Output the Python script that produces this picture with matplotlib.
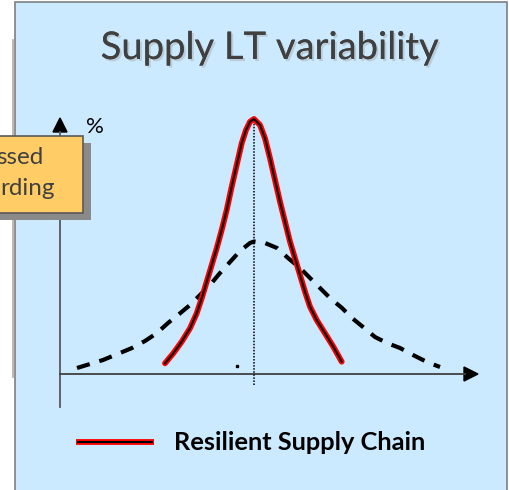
import matplotlib
matplotlib.use('Agg')
import matplotlib.pyplot as plt
import matplotlib.patheffects as pe
from matplotlib.patches import Rectangle

# Resilient supply chain (narrow bell) - lead time vs. %
red_lt = [10.5, 11.33, 12.17, 13.0, 13.67, 14.17, 14.67, 15.17, 15.67, 16.17, 16.67, 17.17,
          17.67, 18.17, 18.6, 19.0, 19.4,
          20.0, 20.5, 21.0, 21.5, 22.0, 22.5, 23.0, 23.5, 24.0, 24.5, 25.0, 25.67, 26.5,
          27.33, 28.17]
red_pct = [1.07, 2.07, 3.23, 4.57, 6.07, 7.57, 9.23, 10.9, 12.57, 14.4, 16.4, 18.73,
           20.9, 23.07, 24.4, 25.23, 25.5,
           24.9, 23.57, 21.57, 19.4, 17.23, 15.23, 13.23, 11.57, 9.9, 8.23, 6.73, 5.4, 4.07,
           2.73, 1.23]

# wide bell (dashed)
wide_lt = [1.7, 4.3, 6.0, 7.2, 8.5, 9.7, 10.8, 11.8, 13.0, 14.0, 15.0, 16.0, 17.0, 18.0,
           19.0, 19.4, 20.5, 21.7, 22.8, 24.0, 25.0, 26.0, 27.0, 28.2, 29.2, 30.3, 31.5,
           32.7, 34.0, 35.3, 36.7, 38.0]
wide_pct = [0.6, 1.4, 2.1, 2.6, 3.3, 4.1, 5.1, 5.9, 6.9, 7.9, 8.9, 10.1, 11.2, 12.3,
            13.1, 13.25, 13.1, 12.6, 11.6, 10.6, 9.6, 8.6, 7.6, 6.6, 5.6, 4.7, 3.7,
            3.1, 2.6, 1.9, 1.2, 0.7]

mean_lt = 19.4
title = 'Supply LT variability'
legend_label = 'Resilient Supply Chain'
box_lines = ['ssed', 'rding']

W, H = 510, 490
fig = plt.figure(figsize=(W / 100, H / 100), dpi=100)

# background layer in pixel coords
bg = fig.add_axes([0, 0, 1, 1])
bg.set_xlim(0, W)
bg.set_ylim(H, 0)
bg.axis('off')

bg.add_patch(Rectangle((15, 2), 492, 500, facecolor='#cceaff', edgecolor='#7f7f7f', lw=1.2))
bg.plot([13, 13], [40, 377], color='#b9aa9a', lw=1.2)

# title
bg.text(270, 48, title, ha='center', va='center', fontsize=27.5, color='#404040',
        family='Lato',
        path_effects=[pe.withSimplePatchShadow(offset=(1.5, -1.5), shadow_rgbFace='#a0a0a0', alpha=0.4),
                      pe.Normal()])

# axes lines
bg.plot([60, 60], [132, 407], color='#595959', lw=1.3)
bg.plot([60, 465], [374, 374], color='#404040', lw=1.3)
bg.fill([53, 67, 60], [132, 132, 118], color='black')
bg.fill([464, 464, 478], [367, 381, 374], color='black')
bg.text(86, 127, '%', ha='left', va='center', fontsize=16, color='black', family='Lato')

# stray dot
bg.plot([237], [366], marker='s', ms=2, color='black')

# legend
bg.plot([76, 154], [442, 442], color='red', lw=4.2, solid_capstyle='butt')
bg.plot([77, 153], [442, 442], color='black', lw=1.5, solid_capstyle='butt')
bg.text(174, 442, legend_label, ha='left', va='center', fontsize=18.3, fontweight='bold',
        family='Lato', color='black')

# orange callout (cut off by the left edge)
bg.add_patch(Rectangle((-80, 143), 171, 77, facecolor='#8a8a8a', edgecolor='none', zorder=5))
bg.add_patch(Rectangle((-80, 136), 163, 77, facecolor='#ffcc66', edgecolor='#595959', lw=1.2, zorder=6))
bg.text(43, 157, box_lines[0], ha='right', va='center', fontsize=17.5, color='#404040', family='Lato', zorder=7)
bg.text(55, 188, box_lines[1], ha='right', va='center', fontsize=17.5, color='#404040', family='Lato', zorder=7)

# chart axes: origin at the axis crossing, 10 px per unit
ax = fig.add_axes([60 / W, (H - 374) / H, 418 / W, 256 / H])
ax.set_xlim(0, 41.8)
ax.set_ylim(0, 25.6)
ax.axis('off')
ax.patch.set_visible(False)

ax.plot([mean_lt, mean_lt], [-1.1, 25.4], color='black', lw=1.1, ls=(0, (1, 1)), clip_on=False)
ax.plot(wide_lt, wide_pct, color='black', lw=3, dashes=(3.2, 2.4), dash_capstyle='butt', clip_on=False)
ax.plot(red_lt, red_pct, color='red', lw=4.2, solid_capstyle='round', solid_joinstyle='round', clip_on=False)
ax.plot(red_lt, red_pct, color='black', lw=1.5, solid_joinstyle='round', clip_on=False)

plt.savefig('out.png', dpi=100)
